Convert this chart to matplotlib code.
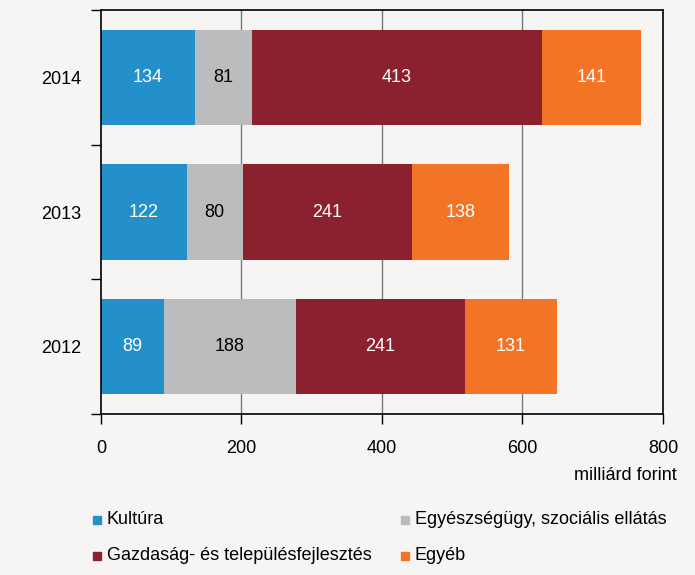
import matplotlib
matplotlib.use('Agg')
import matplotlib.pyplot as plt
from matplotlib.patches import Rectangle
import numpy as np

plt.rcParams['font.family'] = ['Liberation Sans', 'DejaVu Sans']

years = ['2012', '2013', '2014']
series = ['Kultúra', 'Egyészségügy, szociális ellátás',
          'Gazdaság- és településfejlesztés', 'Egyéb']
values = {
    'Kultúra': [89, 122, 134],
    'Egyészségügy, szociális ellátás': [188, 80, 81],
    'Gazdaság- és településfejlesztés': [241, 241, 413],
    'Egyéb': [131, 138, 141],
}
colors = ['#2490cb', '#babcbe', '#8b202e', '#f27424']
text_colors = ['white', 'black', 'white', 'white']
xticks = [0, 200, 400, 600, 800]

fs = 13
bg = '#f6f5f3'
fig = plt.figure(figsize=(6.95, 5.75), dpi=100, facecolor=bg)
ax = fig.add_axes([0.1453, 0.28, 0.8086, 0.7026], facecolor=bg)

ypos = np.arange(len(years))
left = np.zeros(len(years))
for name, col, tcol in zip(series, colors, text_colors):
    vals = np.array(values[name])
    ax.barh(ypos, vals, left=left, height=0.71, color=col, zorder=2)
    for y, l, v in zip(ypos, left, vals):
        ax.text(l + v / 2, y, str(v), ha='center', va='center',
                color=tcol, fontsize=fs, zorder=3)
    left += vals

ax.set_xlim(0, 800)
ax.set_ylim(-0.5, 2.5)
ax.set_xticks(xticks)
ax.set_xticklabels([str(t) for t in xticks], fontsize=fs)
ax.set_yticks(ypos)
ax.set_yticklabels(years, fontsize=fs)
ax.tick_params(axis='y', length=0, pad=14)
ax.set_yticks([-0.5, 0.5, 1.5, 2.5], minor=True)
ax.tick_params(axis='y', which='minor', length=7, direction='out', width=1)
ax.tick_params(axis='x', length=7, direction='out', width=1, pad=12)
for t in [200, 400, 600]:
    ax.axvline(t, color='#777777', lw=1, zorder=1)
for s in ax.spines.values():
    s.set_color('black')
    s.set_linewidth(1.2)

fig.text(677 / 695, 1 - 475 / 575, 'milliárd forint', ha='right', va='center', fontsize=fs)

# legend
col_x = [93, 401]
row_y = [520, 556]
for i, (name, col) in enumerate(zip(series, colors)):
    x0 = col_x[i % 2]
    y0 = row_y[i // 2]
    fig.patches.append(Rectangle((x0 / 695, 1 - (y0 + 4) / 575), 8 / 695, 8 / 575,
                                 transform=fig.transFigure, color=col, figure=fig))
    fig.text((x0 + 14) / 695, 1 - y0 / 575, name, ha='left', va='center', fontsize=fs)

fig.savefig('out.png', dpi=100, facecolor=bg)
